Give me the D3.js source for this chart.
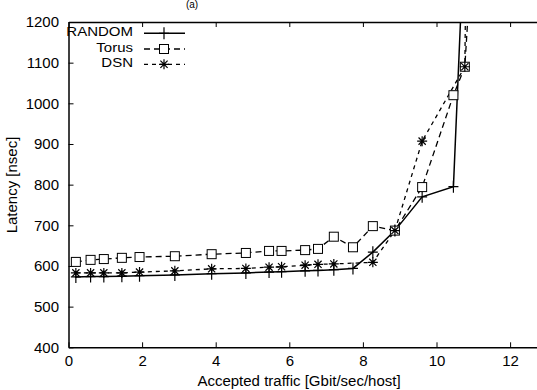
<!DOCTYPE html>
<html>
<head>
<meta charset="utf-8">
<script src="https://cdn.jsdelivr.net/npm/d3@7"></script>
<style>
  body { margin: 0; background: white; }
  text { font-family: "Liberation Sans", Arial, sans-serif; }
</style>
</head>
<body>
<div id="chart"></div>
<script>
// Data
const seriesNames = ["RANDOM", "Torus", "DSN"];
const randomX = [0.2, 0.6, 0.96, 1.45, 1.93, 2.89, 3.89, 4.82, 5.45, 5.79, 6.43, 6.78, 7.21, 7.73, 8.27, 8.87, 9.61, 10.46, 10.84];
const randomY = [573, 574, 574, 575, 576, 578, 581, 583, 585, 586, 588, 589, 591, 594, 634, 687, 770, 795, 1600];
const torusX  = [0.2, 0.6, 0.96, 1.45, 1.93, 2.89, 3.89, 4.82, 5.45, 5.79, 6.43, 6.78, 7.21, 7.73, 8.27, 8.87, 9.61, 10.46, 10.77, 11.05];
const torusY  = [610, 615, 617, 620, 622, 624, 629, 632, 637, 637, 639, 642, 672, 646, 698, 687, 794, 1020, 1090, 1500];
const dsnX    = [0.2, 0.6, 0.96, 1.45, 1.93, 2.89, 3.89, 4.82, 5.45, 5.79, 6.43, 6.78, 7.21, 8.27, 8.87, 9.61, 10.77, 10.82];
const dsnY    = [583, 583, 583, 583, 585, 588, 593, 594, 597, 598, 602, 604, 605, 609, 687, 907, 1090, 1500];
const xTicks = [0, 2, 4, 6, 8, 10, 12];
const yTicks = [400, 500, 600, 700, 800, 900, 1000, 1100, 1200];

const config = {
  width    : 537,
  height   : 390,
  left     : 68.5,
  top      : 22,
  bottom   : 347.3,
  right    : 583.7,   // plot continues past the image edge
  fontSize : 15,
};

const svg = d3.select("#chart").append("svg")
  .attr("width", config.width)
  .attr("height", config.height);

const x = d3.scaleLinear().domain([0, 14]).range([config.left, config.right]);
const y = d3.scaleLinear().domain([400, 1200]).range([config.bottom, config.top]);

svg.append("clipPath").attr("id", "clip")
  .append("rect")
    .attr("x", config.left).attr("y", config.top)
    .attr("width", config.right - config.left)
    .attr("height", config.bottom - config.top);

// axes: ticks inward, mirrored on top
const tickLen = 5;
svg.append("g")
  .attr("transform", "translate(0," + config.bottom + ")")
  .call(d3.axisBottom(x).tickValues(xTicks).tickSizeInner(-tickLen).tickSizeOuter(0).tickPadding(7.7).tickFormat(d3.format("d")))
  .call(g => g.select(".domain").attr("stroke-width", 1.5));
svg.append("g")
  .attr("transform", "translate(0," + config.top + ")")
  .call(d3.axisTop(x).tickValues(xTicks).tickSizeInner(-tickLen).tickSizeOuter(0).tickFormat(""))
  .call(g => g.select(".domain").attr("stroke-width", 1.5));
svg.append("g")
  .attr("transform", "translate(" + config.left + ",0)")
  .call(d3.axisLeft(y).tickValues(yTicks).tickSizeInner(-tickLen).tickSizeOuter(0).tickPadding(9.5).tickFormat(d3.format("d")))
  .call(g => g.select(".domain").attr("stroke-width", 1.5));

svg.selectAll(".tick text")
  .attr("font-size", config.fontSize)
  .attr("fill", "#000")
  .attr("font-family", "'Liberation Sans', Arial, sans-serif");
svg.selectAll(".tick line").attr("stroke", "#000");

// narrower glyph height, same width as the reference text
function stretch(sel, size) {
  sel.attr("font-size", config.fontSize);
  const w = sel.node().getComputedTextLength();
  sel.attr("font-size", size)
     .attr("textLength", w)
     .attr("lengthAdjust", "spacingAndGlyphs");
}

// axis titles
svg.append("text")
  .attr("x", 299).attr("y", 386)
  .attr("text-anchor", "middle")
  .text("Accepted traffic [Gbit/sec/host]")
  .call(stretch, 14);
svg.append("text")
  .attr("transform", "translate(16.5,185) rotate(-90)")
  .attr("text-anchor", "middle")
  .text("Latency [nsec]")
  .call(stretch, 14);
svg.append("text")
  .attr("x", 192).attr("y", 8)
  .attr("text-anchor", "middle")
  .attr("font-size", 10)
  .text("(a)");

// markers
function drawMarker(g, type, cx, cy) {
  const r = 5;
  if (type === "plus") {
    g.append("path")
      .attr("d", `M${cx - r},${cy}H${cx + r}M${cx},${cy - r - 1}V${cy + r + 1}`)
      .attr("stroke", "#000").attr("stroke-width", 1.2).attr("fill", "none");
  } else if (type === "square") {
    g.append("rect")
      .attr("x", cx - 4.5).attr("y", cy - 4.5)
      .attr("width", 9).attr("height", 9)
      .attr("fill", "white").attr("stroke", "#000").attr("stroke-width", 1);
  } else {
    const d = r * 0.72;
    g.append("path")
      .attr("d", `M${cx - r},${cy}H${cx + r}M${cx},${cy - r}V${cy + r}` +
                 `M${cx - d},${cy - d}L${cx + d},${cy + d}M${cx - d},${cy + d}L${cx + d},${cy - d}`)
      .attr("stroke", "#000").attr("stroke-width", 1.2).attr("fill", "none");
  }
}

const series = [
  { name: seriesNames[0], xs: randomX, ys: randomY, marker: "plus",   dash: null,  width: 1.5 },
  { name: seriesNames[1], xs: torusX,  ys: torusY,  marker: "square", dash: "6,4", width: 1.3 },
  { name: seriesNames[2], xs: dsnX,    ys: dsnY,    marker: "star",   dash: "4,4", width: 1.3 },
];

const line = d3.line().x(d => x(d[0])).y(d => y(d[1]));
const plot = svg.append("g").attr("clip-path", "url(#clip)");

series.forEach(s => {
  const pts = s.xs.map((v, i) => [v, s.ys[i]]);
  plot.append("path")
    .datum(pts)
    .attr("d", line)
    .attr("fill", "none")
    .attr("stroke", "#000")
    .attr("stroke-width", s.width)
    .attr("stroke-dasharray", s.dash);
});
series.forEach(s => {
  const g = plot.append("g");
  s.xs.forEach((v, i) => {
    if (s.ys[i] <= 1200) drawMarker(g, s.marker, x(v), y(s.ys[i]));
  });
});

// legend
const legend = svg.append("g");
const legendY = [33.3, 49, 64.3];
series.forEach((s, i) => {
  const ly = legendY[i];
  legend.append("text")
    .attr("x", 133).attr("y", ly + 3)
    .attr("text-anchor", "end")
    .text(s.name)
    .call(stretch, 13);
  legend.append("line")
    .attr("x1", 144).attr("x2", 185)
    .attr("y1", ly).attr("y2", ly)
    .attr("stroke", "#000")
    .attr("stroke-width", s.width)
    .attr("stroke-dasharray", s.dash);
  drawMarker(legend, s.marker, 164, ly);
});
</script>
</body>
</html>
